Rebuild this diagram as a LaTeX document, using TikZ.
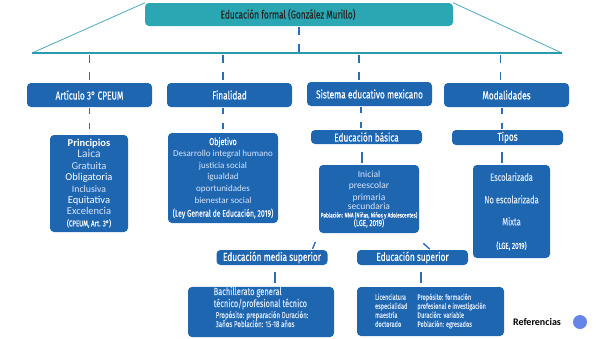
\documentclass[tikz,border=0pt]{standalone}
\usepackage{fontspec}
\setmainfont{Carlito}
\newfontfamily\cond{Fira Sans}[FakeStretch=0.72,FakeBold=0.3]
\usepackage{xcolor}
\usepackage{tikz}
\usetikzlibrary{positioning,calc}

\definecolor{boxblue}{HTML}{1F66B1}
\definecolor{topteal}{HTML}{2BA7B4}
\definecolor{lineteal}{HTML}{2B9AAE}
\definecolor{dashblue}{HTML}{2E6CB3}
\definecolor{txtlt}{HTML}{D6E5F7}
\definecolor{refdot}{HTML}{6685E8}
\newcommand{\fsz}[2]{\fontsize{#1}{#2}\selectfont}

\begin{document}
\begin{tikzpicture}[
  x=1pt,y=-1pt,
  bbox/.style={rectangle,rounded corners=4pt,fill=boxblue,text=white,inner sep=0pt,align=center},
  hbox/.style={bbox,minimum width=125pt,minimum height=24pt,font=\cond\fsz{11.5}{13}},
  sbox/.style={bbox,minimum width=111pt,minimum height=15pt,font=\cond\fsz{11.5}{13}},
  dln/.style={dashblue,line width=1.6pt,dash pattern=on 8pt off 9pt},
  sln/.style={dashblue,line width=1.4pt},
  tln/.style={lineteal,line width=1.6pt}
]
\useasboundingbox (0,0) rectangle (600,338);

% top of the map
\node[bbox,fill=topteal,text=black!85,minimum width=308pt,minimum height=23pt,font=\cond\fsz{11.5}{13}] (top) at (299,14.5) {Educación formal (González Murillo)\hspace*{22pt}};
\coordinate (hl) at (32,53);
\coordinate (hr) at (562,53);
\draw[lineteal!85,line width=0.8pt] (top.north west) -- (hl);
\draw[lineteal!85,line width=0.8pt] (top.north east) -- (hr);
\draw[dln,shorten <=1pt] (top.south) -- (top.south |- hl);
\draw[tln] (hl) -- (hr);

% first row
\node[hbox] (art) at (89.5,95) {Artículo 3° CPEUM};
\node[hbox] (fin) at (229.5,95) {Finalidad};
\node[hbox] (sis) at (369.5,94) {Sistema educativo mexicano};
\node[hbox] (moda) at (506.5,95) {Modalidades};

% second row
\node[bbox,minimum width=78pt,minimum height=97pt,font=\fsz{10}{11.4}] (prin) at (89,183.5) {%
{\bfseries\fsz{10.5}{11.4}Principios}\\
{\color{txtlt}\fsz{11.5}{11.4}Laica}\\
{\color{txtlt}\fsz{10.5}{11.4}Gratuita}\\
{\fsz{10.5}{11.4}Obligatoria}\\
{\color{txtlt}\fsz{9.8}{11.4}Inclusiva}\\
{\fsz{10.5}{11.4}Equitativa}\\
{\color{txtlt}\fsz{10.5}{11.4}Excelencia}\\
{\cond\fsz{8.5}{11.4}(CPEUM, Art. 3°)}};
\node[bbox,minimum width=110pt,minimum height=90pt,font=\fsz{9}{11.6},text=txtlt] (obj) at (223,178) {%
{\color{white}\cond\fsz{10}{11.6}Objetivo}\\
Desarrollo integral humano\\
justicia social\\
igualdad\\
oportunidades\\
bienestar social\\[2pt]
{\color{white}\cond\fsz{9.5}{11.6}(Ley General de Educación, 2019)}};
\node[sbox,minimum height=14pt] (basica) at (366.5,137) {Educación básica};
\node[sbox] (tipos) at (507.5,137.5) {Tipos};

% third row
\node[bbox,minimum width=100pt,minimum height=68pt,font=\fsz{9.5}{11.6},text=txtlt] (ini) at (369,199) {%
Inicial\\
preescolar\\
primaria\\[-2.5pt]
secundaria\\[-3.5pt]
{\color{white}\cond\fsz{6.5}{6}Población: NNA (Niñas, Niños y Adolescentes)}\\[-3pt]
{\color{white}\cond\fsz{8.8}{9}(LGE, 2019)}};
\node[bbox,minimum width=77pt,minimum height=93pt,font=\cond\fsz{10.5}{11},text=txtlt] (esc) at (511.5,211.5) {%
Escolarizada\\[11.5pt]
No escolarizada\\[11pt]
Mixta\\[12.5pt]
{\color{white}\fsz{8.8}{11}(LGE, 2019)}};

% lower levels
\node[sbox] (media) at (272,257.5) {Educación media superior};
\node[sbox] (sup) at (412.5,257.5) {Educación superior};
\node[bbox,minimum width=146pt,minimum height=50pt,align=left,font=\cond\fsz{10.4}{12},text=txtlt] (bach) at (261,312) {%
Bachillerato general\\
técnico/profesional técnico\hspace*{8pt}\\[-1pt]
{\fsz{8.6}{9}\hspace*{2pt}Propósito: preparación Duración:}\\[-3pt]
{\fsz{8.6}{9}\hspace*{2pt}3años Población: 15-18 años}\\[-2pt]
\mbox{}};
\node[bbox,minimum width=147pt,minimum height=49pt,align=left,font=\cond\fsz{7.8}{9},text=txtlt] (lic) at (430.5,311.5) {%
\begin{tabular}{@{}l@{\hspace{10pt}}l@{}}
Licenciatura & Propósito: formación\\
especialidad & profesional e investigación\\
maestría & Duración: variable\\
doctorado & Población: egresados
\end{tabular}};

\node[font=\bfseries\fsz{10}{11}] (ref) at (537,322) {Referencias};
\node[circle,fill=refdot,minimum size=14pt,inner sep=0pt] (dot) at (580,322) {};

% connectors
\draw[dln,shorten <=2pt] (art.north |- hl) -- (art.north);
\draw[dln,shorten <=2pt] (obj.north |- hl) -- (obj.north |- fin.north);
\draw[dln,shorten <=2pt] ([xshift=-7.5pt]basica.north |- hl) -- ([xshift=-7.5pt]basica.north |- sis.north);
\draw[dln,shorten <=2pt] ([xshift=-7pt]tipos.north |- hl) -- ([xshift=-7pt]tipos.north |- moda.north);
\draw[dln,dash pattern=on 6pt off 9pt,shorten <=1pt] (art.south) -- (art.south |- prin.north);
\draw[dln,dash pattern=on 6pt off 9pt,shorten <=1pt] (obj.north |- fin.south) -- (obj.north);
\draw[dln,dash pattern=on 6pt off 9pt,shorten <=1pt] ([xshift=-5.5pt]basica.north |- sis.south) -- ([xshift=-5.5pt]basica.north);
\draw[dln,dash pattern=on 6pt off 9pt,shorten <=1pt] ([xshift=-5.5pt]tipos.north |- moda.south) -- ([xshift=-5.5pt]tipos.north);
\draw[sln,shorten <=8pt,shorten >=2pt] ([xshift=-7pt]ini.north |- basica.south) -- ([xshift=-7pt]ini.north);
\draw[sln,shorten <=7pt,shorten >=2pt] ([xshift=-9.5pt]esc.north |- tipos.south) -- ([xshift=-9.5pt]esc.north);
\draw[sln,shorten <=9.5pt,shorten >=1pt] (ini.south west) -- ([xshift=-15.5pt]media.north east);
\draw[sln,shorten <=15pt,shorten >=1pt] ([xshift=-7pt]ini.south east) -- ([xshift=18pt]sup.north);
\draw[sln,shorten <=7pt,shorten >=4pt] ([xshift=3pt]media.south) -- ([xshift=3pt]media.south |- bach.north);
\draw[sln,shorten <=7pt,shorten >=4pt] ([xshift=8.5pt]sup.south) -- ([xshift=8.5pt]sup.south |- lic.north);
\end{tikzpicture}
\end{document}
